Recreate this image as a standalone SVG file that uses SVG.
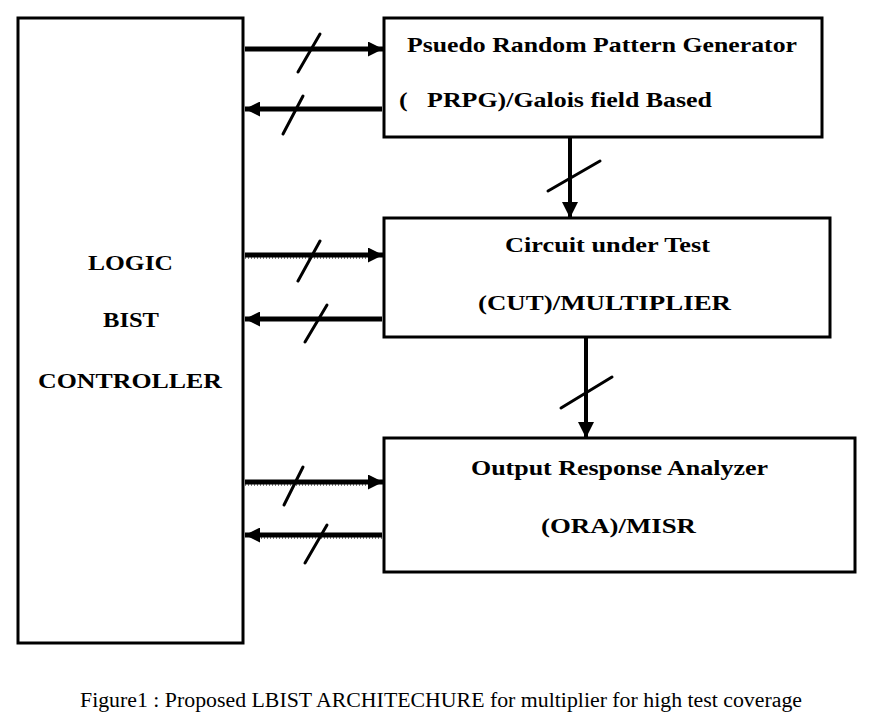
<svg xmlns="http://www.w3.org/2000/svg" width="873" height="718" viewBox="0 0 873 718">
<style>
.box{fill:#fff;stroke:#000;stroke-width:3}
.t{font-family:'Times New Roman','Liberation Serif','DejaVu Serif',Times,serif;font-weight:bold;font-size:22px;fill:#000}
.cap{font-family:'Times New Roman','Liberation Serif','DejaVu Serif',Times,serif;font-size:20px;fill:#000}
.ln{stroke:#000;stroke-width:5;fill:none}
.vl{stroke:#000;stroke-width:4;fill:none}
.sl{stroke:#000;stroke-width:3;stroke-linecap:round}
</style>
<defs>
<marker id="ah" viewBox="0 0 10 10" refX="10" refY="5" markerWidth="3.4" markerHeight="3" markerUnits="strokeWidth" orient="auto">
<path d="M0,0L10,5L0,10z" fill="#000"/>
</marker>
<marker id="av" viewBox="0 0 10 10" refX="10" refY="5" markerWidth="4.5" markerHeight="4" markerUnits="strokeWidth" orient="auto">
<path d="M0,0L10,5L0,10z" fill="#000"/>
</marker>
</defs>
<rect width="873" height="718" fill="#fff"/>
<g id="controller">
<rect class="box" x="18" y="18" width="225" height="625"/>
<text class="t" x="88" y="270" textLength="85" lengthAdjust="spacingAndGlyphs">LOGIC</text>
<text class="t" x="103" y="327" textLength="56" lengthAdjust="spacingAndGlyphs">BIST</text>
<text class="t" x="38" y="388" textLength="184" lengthAdjust="spacingAndGlyphs">CONTROLLER</text>
</g>
<g id="prpg">
<rect class="box" x="384" y="18" width="438" height="119"/>
<text class="t" x="407" y="52" textLength="390" lengthAdjust="spacingAndGlyphs">Psuedo Random Pattern Generator</text>
<text class="t" x="399" y="107" textLength="313" lengthAdjust="spacingAndGlyphs" xml:space="preserve">(   PRPG)/Galois field Based</text>
</g>
<g id="cut">
<rect class="box" x="384" y="218" width="446" height="119"/>
<text class="t" x="505" y="252" textLength="205" lengthAdjust="spacingAndGlyphs">Circuit under Test</text>
<text class="t" x="478" y="310" textLength="253" lengthAdjust="spacingAndGlyphs">(CUT)/MULTIPLIER</text>
</g>
<g id="ora">
<rect class="box" x="384" y="438" width="471" height="134"/>
<text class="t" x="471" y="475" textLength="297" lengthAdjust="spacingAndGlyphs">Output Response Analyzer</text>
<text class="t" x="541" y="533" textLength="155" lengthAdjust="spacingAndGlyphs">(ORA)/MISR</text>
</g>
<g id="connectors">
<line class="ln" x1="245" y1="49" x2="383" y2="49" marker-end="url(#ah)"/>
<line class="sl" x1="320" y1="34" x2="298" y2="72"/>
<line class="ln" x1="382" y1="109" x2="245" y2="109" marker-end="url(#ah)"/>
<line class="sl" x1="303" y1="96" x2="283" y2="134"/>
<line class="ln" x1="245" y1="255" x2="383" y2="255" marker-end="url(#ah)"/>
<line x1="245" y1="258" x2="370" y2="258" stroke="#000" stroke-width="1" stroke-dasharray="1,2"/>
<line class="sl" x1="320" y1="241" x2="298" y2="281"/>
<line class="ln" x1="382" y1="319" x2="245" y2="319" marker-end="url(#ah)"/>
<line class="sl" x1="327" y1="305" x2="305" y2="342"/>
<line class="ln" x1="245" y1="482" x2="383" y2="482" marker-end="url(#ah)"/>
<line x1="245" y1="485" x2="370" y2="485" stroke="#000" stroke-width="1" stroke-dasharray="1,2"/>
<line class="sl" x1="303" y1="467" x2="284" y2="505"/>
<line class="ln" x1="382" y1="535" x2="245" y2="535" marker-end="url(#ah)"/>
<line x1="258" y1="538" x2="382" y2="538" stroke="#000" stroke-width="1" stroke-dasharray="1,2"/>
<line class="sl" x1="327" y1="525" x2="305" y2="563"/>
<line class="vl" x1="570" y1="137" x2="570" y2="218" marker-end="url(#av)"/>
<line class="sl" x1="548" y1="191" x2="600" y2="161"/>
<line class="vl" x1="586" y1="337" x2="586" y2="438" marker-end="url(#av)"/>
<line class="sl" x1="561" y1="408" x2="612" y2="377"/>
</g>
<text class="cap" x="80" y="707" textLength="722" lengthAdjust="spacingAndGlyphs">Figure1 : Proposed LBIST ARCHITECHURE for multiplier for high test coverage</text>
</svg>
